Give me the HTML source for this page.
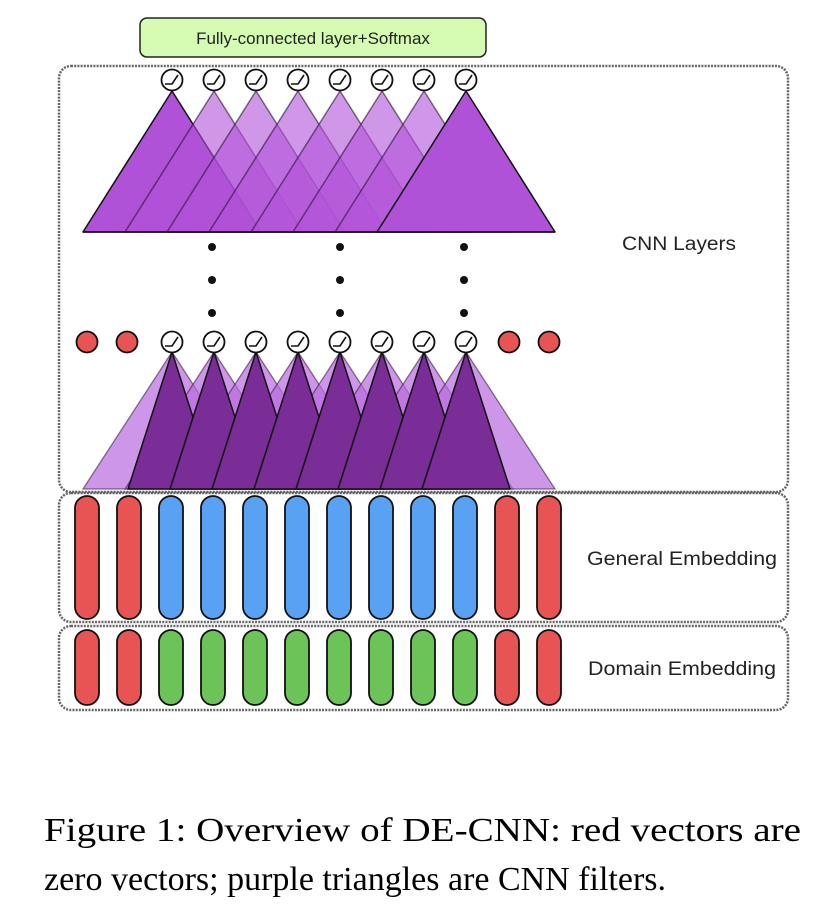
<!DOCTYPE html>
<html><head><meta charset="utf-8"><style>
html,body{margin:0;padding:0;background:#fff;}
svg{display:block;}
</style></head><body>
<svg width="834" height="918" viewBox="0 0 834 918" xmlns="http://www.w3.org/2000/svg">
<defs>
<g id="relu">
<circle r="10.5" fill="#fff" stroke="#111" stroke-width="1.8"/>
<path d="M-7,4 L0,4 L6,-5" fill="none" stroke="#111" stroke-width="1.6"/>
</g>
</defs>
<!-- boxes -->
<g fill="none" stroke="#666" stroke-width="2.5" stroke-dasharray="2 1.2">
<rect x="59" y="66" width="729" height="426" rx="12"/>
<rect x="59" y="493" width="729" height="129" rx="12"/>
<rect x="59" y="626" width="729" height="84" rx="12"/>
</g>
<!-- FC box -->
<rect x="140" y="18" width="346" height="39" rx="7" fill="#d6fbb2" stroke="#222" stroke-width="1.5"/>
<text x="313" y="44" text-anchor="middle" font-family="Liberation Sans, sans-serif" font-size="17" fill="#222">Fully-connected layer+Softmax</text>
<!-- top triangles -->
<g stroke="#111" stroke-width="1.5" stroke-linejoin="round">
<polygon points="172,91 83,232 261,232" fill="#b052d8"/>
<g fill="rgba(176,82,216,0.6)" stroke="rgba(40,20,50,0.6)">
<polygon points="214,91 125,232 303,232"/>
<polygon points="256,91 167,232 345,232"/>
<polygon points="298,91 209,232 387,232"/>
<polygon points="340,91 251,232 429,232"/>
<polygon points="382,91 293,232 471,232"/>
<polygon points="424,91 335,232 513,232"/>
</g>
<polygon points="466,91 377,232 555,232" fill="#b052d8"/>
<line x1="83" y1="232" x2="555" y2="232"/>
</g>
<g>
<use href="#relu" x="172" y="80"/><use href="#relu" x="214" y="80"/><use href="#relu" x="256" y="80"/><use href="#relu" x="298" y="80"/>
<use href="#relu" x="340" y="80"/><use href="#relu" x="382" y="80"/><use href="#relu" x="424" y="80"/><use href="#relu" x="466" y="80"/>
</g>
<!-- dots -->
<g fill="#111">
<circle cx="212" cy="247" r="4"/><circle cx="212" cy="280" r="4"/><circle cx="212" cy="313" r="4"/>
<circle cx="340" cy="247" r="4"/><circle cx="340" cy="280" r="4"/><circle cx="340" cy="313" r="4"/>
<circle cx="464" cy="247" r="4"/><circle cx="464" cy="280" r="4"/><circle cx="464" cy="313" r="4"/>
</g>
<!-- lower triangles -->
<g fill="rgba(185,105,222,0.7)" stroke="rgba(60,30,70,0.6)" stroke-width="1.3">
<polygon points="172,352 83,489 261,489"/>
<polygon points="214,352 125,489 303,489"/>
<polygon points="256,352 167,489 345,489"/>
<polygon points="298,352 209,489 387,489"/>
<polygon points="340,352 251,489 429,489"/>
<polygon points="382,352 293,489 471,489"/>
<polygon points="424,352 335,489 513,489"/>
<polygon points="466,352 377,489 555,489"/>
</g>
<g fill="#7a2d97" stroke="#111" stroke-width="1.5" stroke-linejoin="round">
<polygon points="172,352 128,489 216,489"/>
<polygon points="214,352 170,489 258,489"/>
<polygon points="256,352 212,489 300,489"/>
<polygon points="298,352 254,489 342,489"/>
<polygon points="340,352 296,489 384,489"/>
<polygon points="382,352 338,489 426,489"/>
<polygon points="424,352 380,489 468,489"/>
<polygon points="466,352 422,489 510,489"/>
</g>
<g fill="#e85454" stroke="#111" stroke-width="1.8">
<circle cx="87" cy="342" r="10.5"/><circle cx="127" cy="342" r="10.5"/>
<circle cx="509" cy="342" r="10.5"/><circle cx="549" cy="342" r="10.5"/>
</g>
<g>
<use href="#relu" x="172" y="342"/><use href="#relu" x="214" y="342"/><use href="#relu" x="256" y="342"/><use href="#relu" x="298" y="342"/>
<use href="#relu" x="340" y="342"/><use href="#relu" x="382" y="342"/><use href="#relu" x="424" y="342"/><use href="#relu" x="466" y="342"/>
</g>
<!-- general embedding pills -->
<g stroke="#111" stroke-width="1.8">
<rect x="75" y="496" width="24" height="123" rx="12" fill="#e85454"/>
<rect x="117" y="496" width="24" height="123" rx="12" fill="#e85454"/>
<g fill="#59a1f2">
<rect x="159" y="496" width="24" height="123" rx="12"/>
<rect x="201" y="496" width="24" height="123" rx="12"/>
<rect x="243" y="496" width="24" height="123" rx="12"/>
<rect x="285" y="496" width="24" height="123" rx="12"/>
<rect x="327" y="496" width="24" height="123" rx="12"/>
<rect x="369" y="496" width="24" height="123" rx="12"/>
<rect x="411" y="496" width="24" height="123" rx="12"/>
<rect x="453" y="496" width="24" height="123" rx="12"/>
</g>
<rect x="495" y="496" width="24" height="123" rx="12" fill="#e85454"/>
<rect x="537" y="496" width="24" height="123" rx="12" fill="#e85454"/>
</g>
<!-- domain embedding pills -->
<g stroke="#111" stroke-width="1.8">
<rect x="75" y="630" width="24" height="75" rx="12" fill="#e85454"/>
<rect x="117" y="630" width="24" height="75" rx="12" fill="#e85454"/>
<g fill="#6cc459">
<rect x="159" y="630" width="24" height="75" rx="12"/>
<rect x="201" y="630" width="24" height="75" rx="12"/>
<rect x="243" y="630" width="24" height="75" rx="12"/>
<rect x="285" y="630" width="24" height="75" rx="12"/>
<rect x="327" y="630" width="24" height="75" rx="12"/>
<rect x="369" y="630" width="24" height="75" rx="12"/>
<rect x="411" y="630" width="24" height="75" rx="12"/>
<rect x="453" y="630" width="24" height="75" rx="12"/>
</g>
<rect x="495" y="630" width="24" height="75" rx="12" fill="#e85454"/>
<rect x="537" y="630" width="24" height="75" rx="12" fill="#e85454"/>
</g>
<!-- labels -->
<g font-family="Liberation Sans, sans-serif" font-size="19" fill="#222">
<text x="622" y="250" textLength="114" lengthAdjust="spacingAndGlyphs">CNN Layers</text>
<text x="587" y="565" textLength="190" lengthAdjust="spacingAndGlyphs">General Embedding</text>
<text x="588" y="675" textLength="188" lengthAdjust="spacingAndGlyphs">Domain Embedding</text>
</g>
<!-- caption -->
<g font-family="Liberation Serif, serif" font-size="34" fill="#000">
<text x="44" y="841" textLength="757" lengthAdjust="spacingAndGlyphs">Figure 1:  Overview of DE-CNN: red vectors are</text>
<text x="44" y="890" textLength="622" lengthAdjust="spacingAndGlyphs">zero vectors; purple triangles are CNN filters.</text>
</g>
</svg>
</body></html>
